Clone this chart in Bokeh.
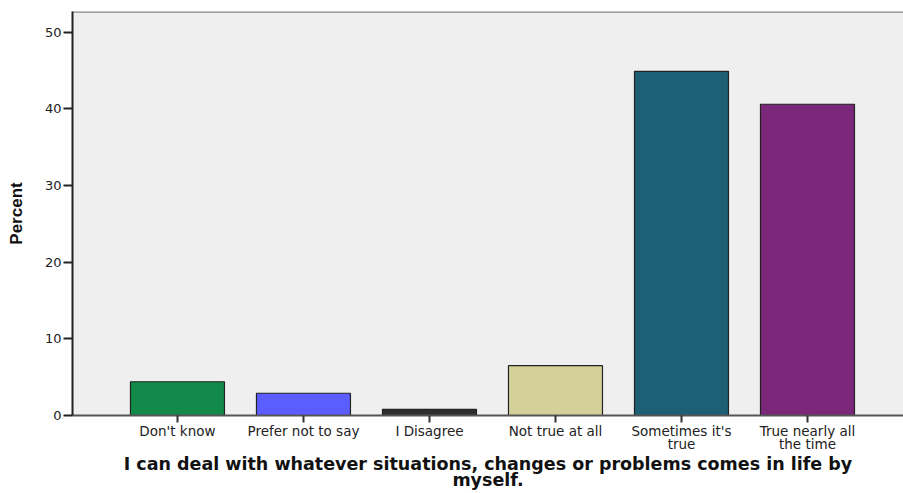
from bokeh.plotting import figure
from bokeh.models import Range1d, FixedTicker, ColumnDataSource
from bokeh.embed import file_html
from bokeh.resources import INLINE

categories = ["Don't know", "Prefer not to say", "I Disagree", "Not true at all",
              "Sometimes it's\ntrue", "True nearly all\nthe time"]
percent = [4.4, 2.9, 0.8, 6.5, 44.9, 40.6]
colors = ["#138a4a", "#5a5dff", "#2e2e2e", "#d4d09a", "#1d5f75", "#7c287a"]
y_ticks = [0, 10, 20, 30, 40, 50]
x_title = "I can deal with whatever situations, changes or problems comes in life by\nmyself."
y_title = "Percent"

xs = list(range(len(categories)))
src = ColumnDataSource(dict(x=xs, top=percent, color=colors))

X0, X1, YTOP = -0.833, 5.762, 52.7

p = figure(width=903, height=493, output_backend="svg", toolbar_location=None,
           x_range=Range1d(X0, X1), y_range=Range1d(0, YTOP),
           min_border_left=72, min_border_right=0, min_border_top=11, min_border_bottom=0)
p.background_fill_color = "#efefef"
p.border_fill_color = "white"
p.outline_line_color = None
p.xgrid.visible = False
p.ygrid.visible = False

p.vbar(x="x", top="top", bottom=0, width=0.746, fill_color="color",
       line_color="#222222", line_width=1.2, source=src)

# top frame line
p.line(x=[X0, X1], y=[YTOP, YTOP], line_color="#8a8a8a", line_width=2.5)

p.xaxis.ticker = FixedTicker(ticks=xs)
p.xaxis.major_label_overrides = {i: c for i, c in enumerate(categories)}
p.xaxis.minor_tick_line_color = None
p.xaxis.major_tick_out = 7
p.xaxis.major_tick_in = 0
p.xaxis.major_tick_line_width = 2
p.xaxis.major_tick_line_color = "#333333"
p.xaxis.axis_line_color = "#555555"
p.xaxis.axis_line_width = 2
p.xaxis.major_label_text_font = "DejaVu Sans"
p.xaxis.major_label_text_font_size = "13.5px"
p.xaxis.major_label_text_line_height = 0.85
p.xaxis.major_label_text_color = "#222222"
p.xaxis.major_label_standoff = 0
p.xaxis.axis_label = x_title
p.xaxis.axis_label_text_font = "DejaVu Sans"
p.xaxis.axis_label_text_font_style = "bold"
p.xaxis.axis_label_text_font_size = "17.5px"
p.xaxis.axis_label_text_line_height = 0.8
p.xaxis.axis_label_standoff = -1
p.xaxis.axis_label_text_color = "#111111"

p.yaxis.ticker = FixedTicker(ticks=y_ticks)
p.yaxis.minor_tick_line_color = None
p.yaxis.major_tick_out = 9
p.yaxis.major_tick_in = 0
p.yaxis.major_tick_line_width = 2
p.yaxis.major_tick_line_color = "#222222"
p.yaxis.axis_line_color = "#222222"
p.yaxis.axis_line_width = 2
p.yaxis.major_label_text_font = "DejaVu Sans"
p.yaxis.major_label_text_font_size = "13px"
p.yaxis.major_label_text_color = "#222222"
p.yaxis.major_label_standoff = 2
p.yaxis.axis_label = y_title
p.yaxis.axis_label_text_font = "Liberation Sans"
p.yaxis.axis_label_text_font_style = "bold"
p.yaxis.axis_label_text_font_size = "17px"
p.yaxis.axis_label_standoff = 16
p.yaxis.axis_label_text_color = "#111111"

open("out.html", "w").write(file_html(p, INLINE))
